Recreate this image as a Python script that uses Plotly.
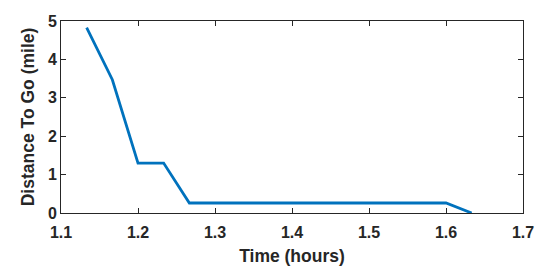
import plotly.graph_objects as go

# time in hours, distance remaining in miles
time_hours = [1.1333, 1.1667, 1.2, 1.2333, 1.2667, 1.6, 1.6333]
distance_to_go = [4.83, 3.47, 1.3, 1.3, 0.26, 0.26, 0.0]

x_ticks = [1.1, 1.2, 1.3, 1.4, 1.5, 1.6, 1.7]
y_ticks = [0, 1, 2, 3, 4, 5]

family = "Liberation Sans, Arial, sans-serif"

fig = go.Figure()
fig.add_trace(go.Scatter(
    x=time_hours, y=distance_to_go, mode="lines",
    line=dict(color="#0072BD", width=2.8),
))

axis_style = dict(
    showline=True, linecolor="#262626", linewidth=1, mirror="ticks",
    ticks="inside", ticklen=5, tickcolor="#262626",
    showgrid=False, zeroline=False, automargin=False,
    tickfont=dict(family=family, size=16, color="#262626", weight="bold"),
)

fig.update_xaxes(
    range=[1.1, 1.7], tickvals=x_ticks, ticktext=[str(v) for v in x_ticks],
    ticklabelstandoff=5,
    title=dict(text="<b>Time (hours)</b>", standoff=9,
               font=dict(family=family, size=17.5, color="#262626")),
    **axis_style,
)
fig.update_yaxes(
    range=[0, 5], tickvals=y_ticks,
    title=dict(text="<b>Distance To Go (mile)</b>", standoff=8,
               font=dict(family=family, size=17.5, color="#262626")),
    **axis_style,
)

# page body adds an 8px offset, so margins are shifted to compensate
fig.update_layout(
    width=550, height=273,
    margin=dict(l=53, r=35, t=13, b=68),
    plot_bgcolor="white", paper_bgcolor="white",
    showlegend=False,
)

fig.write_html("out.html")
